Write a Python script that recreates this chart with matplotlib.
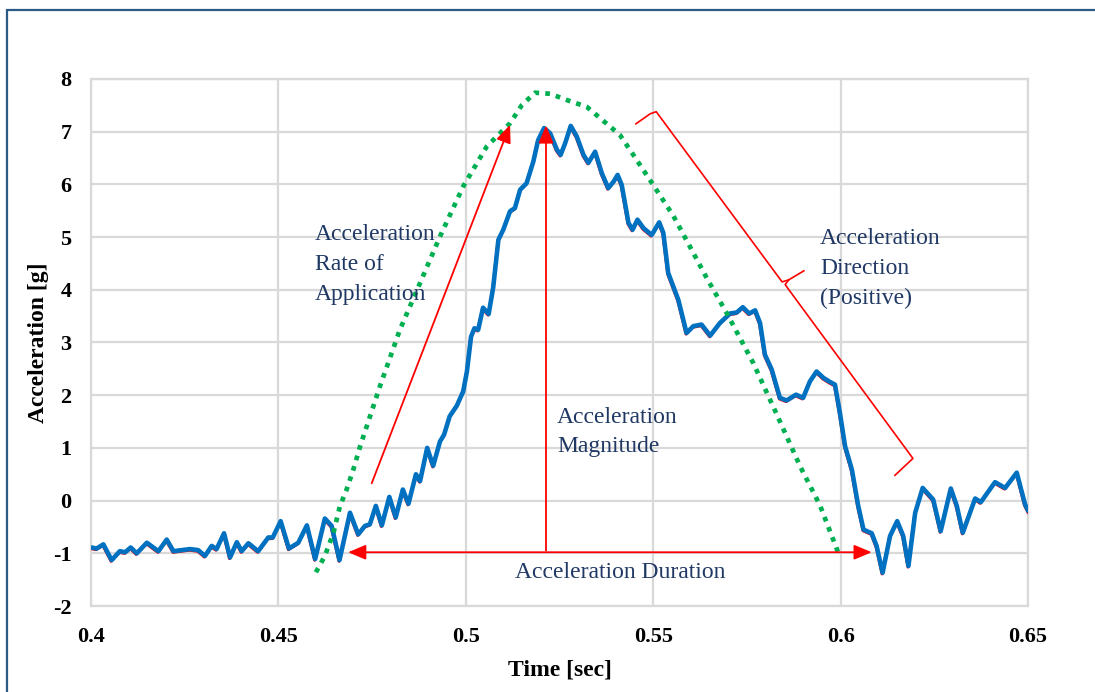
import matplotlib
matplotlib.use("Agg")
import matplotlib.pyplot as plt
from matplotlib.patches import Rectangle
import matplotlib.transforms as mtransforms

# ---------------- data ----------------
time_s = [0.4002, 0.4015, 0.4033, 0.4055, 0.4077, 0.4091, 0.4106, 0.4122, 0.4149, 0.4180,
          0.4202, 0.4220, 0.4242, 0.4264, 0.4286, 0.4304, 0.4322, 0.4335, 0.4355, 0.4371,
          0.4389, 0.4402, 0.4420, 0.4446, 0.4473, 0.4485, 0.4506, 0.4528, 0.4553, 0.4576,
          0.4598, 0.4624, 0.4642, 0.4663, 0.4691, 0.4713, 0.4731, 0.4744, 0.4760, 0.4776,
          0.4796, 0.4813, 0.4832, 0.4847, 0.4867, 0.4878, 0.4897, 0.4913, 0.4931, 0.4942,
          0.4957, 0.4976, 0.4993, 0.5003, 0.5014, 0.5023, 0.5033, 0.5046, 0.5061, 0.5073,
          0.5087, 0.5100, 0.5118, 0.5131, 0.5145, 0.5162, 0.5180, 0.5193, 0.5209, 0.5225,
          0.5243, 0.5253, 0.5265, 0.5280, 0.5296, 0.5314, 0.5327, 0.5345, 0.5363, 0.5380,
          0.5394, 0.5405, 0.5416, 0.5434, 0.5445, 0.5458, 0.5474, 0.5496, 0.5516, 0.5527,
          0.5540, 0.5567, 0.5589, 0.5607, 0.5629, 0.5652, 0.5678, 0.5705, 0.5723, 0.5739,
          0.5756, 0.5772, 0.5785, 0.5798, 0.5816, 0.5838, 0.5856, 0.5881, 0.5900, 0.5918,
          0.5936, 0.5954, 0.5972, 0.5985, 0.5998, 0.6012, 0.6030, 0.6047, 0.6061, 0.6083,
          0.6096, 0.6112, 0.6132, 0.6151, 0.6167, 0.6181, 0.6199, 0.6219, 0.6247, 0.6267,
          0.6294, 0.6310, 0.6326, 0.6359, 0.6374, 0.6412, 0.6439, 0.6470, 0.6492, 0.6501]
accel_g = [-0.89, -0.91, -0.83, -1.13, -0.96, -0.98, -0.89, -1.00, -0.80, -0.96,
           -0.74, -0.96, -0.94, -0.92, -0.94, -1.05, -0.86, -0.92, -0.62, -1.08,
           -0.79, -0.96, -0.81, -0.96, -0.70, -0.70, -0.39, -0.91, -0.80, -0.47,
           -1.11, -0.34, -0.48, -1.13, -0.23, -0.64, -0.48, -0.45, -0.10, -0.47,
           0.07, -0.32, 0.21, -0.06, 0.50, 0.37, 1.00, 0.66, 1.12, 1.25,
           1.60, 1.80, 2.07, 2.45, 3.11, 3.27, 3.24, 3.66, 3.54, 4.04,
           4.95, 5.14, 5.49, 5.55, 5.90, 6.02, 6.43, 6.84, 7.07, 6.97,
           6.66, 6.56, 6.78, 7.11, 6.91, 6.56, 6.41, 6.62, 6.21, 5.93,
           6.05, 6.18, 5.99, 5.27, 5.14, 5.33, 5.17, 5.04, 5.28, 5.08,
           4.32, 3.81, 3.18, 3.31, 3.34, 3.13, 3.37, 3.55, 3.57, 3.67,
           3.55, 3.61, 3.37, 2.77, 2.49, 1.95, 1.90, 2.01, 1.95, 2.26,
           2.45, 2.33, 2.25, 2.20, 1.67, 1.03, 0.59, -0.10, -0.55, -0.62,
           -0.86, -1.37, -0.67, -0.39, -0.67, -1.24, -0.23, 0.24, 0.02, -0.58,
           0.23, -0.10, -0.61, 0.04, -0.03, 0.35, 0.24, 0.53, -0.07, -0.20]

# idealised pulse (green dotted)
pulse_t = [0.4600, 0.4624, 0.4647, 0.4664, 0.4682, 0.4700, 0.4718, 0.4771, 0.4824, 0.4878,
           0.4931, 0.4993, 0.5056, 0.5118, 0.5150, 0.5185, 0.5225, 0.5270, 0.5323, 0.5358,
           0.5411, 0.5447, 0.5500, 0.5554, 0.5598, 0.5643, 0.5696, 0.5767, 0.5830, 0.5892,
           0.5945, 0.5990, 0.5998]
pulse_g = [-1.36, -1.05, -0.61, -0.11, 0.21, 0.59, 1.03, 2.17, 3.24, 4.13,
           5.01, 5.96, 6.72, 7.16, 7.51, 7.74, 7.72, 7.60, 7.47, 7.26,
           6.94, 6.56, 5.99, 5.40, 4.82, 4.22, 3.56, 2.61, 1.63, 0.65,
           -0.09, -0.92, -1.07]

x_ticks = [0.4, 0.45, 0.5, 0.55, 0.6, 0.65]
x_tick_labels = ['0.4', '0.45', '0.5', '0.55', '0.6', '0.65']
y_ticks = [-2, -1, 0, 1, 2, 3, 4, 5, 6, 7, 8]
y_tick_labels = ['-2', '-1', '0', '1', '2', '3', '4', '5', '6', '7', '8']

# ---------------- style ----------------
plt.rcParams['font.family'] = ['Liberation Serif', 'DejaVu Serif']
BLUE = '#0070C0'
RED = '#FF0000'
GREEN = '#00B050'
NAVY = '#1F3864'
GRID = '#D9D9D9'

fig = plt.figure(figsize=(10.95, 6.92), dpi=100)
ax = fig.add_axes([91/1095, 1-606/692, (1028-91)/1095, (606-79)/692])

ax.set_xlim(0.4, 0.65)
ax.set_ylim(-2, 8)
ax.set_xticks(x_ticks)
ax.set_xticklabels(x_tick_labels)
ax.set_yticks(y_ticks)
ax.set_yticklabels(y_tick_labels)
ax.tick_params(length=0, labelsize=16)
ax.tick_params(axis='x', pad=15)
ax.tick_params(axis='y', pad=14)
for lab in ax.get_xticklabels() + ax.get_yticklabels():
    lab.set_fontweight('bold')
ax.grid(True, color=GRID, lw=1.6)
ax.set_axisbelow(True)
for s in ax.spines.values():
    s.set_color(GRID)
    s.set_linewidth(1.6)

ax.set_xlabel('Time [sec]', fontsize=17, fontweight='bold', labelpad=9)
ax.set_ylabel('Acceleration [g]', fontsize=17, fontweight='bold', labelpad=3)

# data lines
red_tr = mtransforms.offset_copy(ax.transData, fig=fig, x=-0.4, y=-0.9, units='points')
ax.plot(time_s, accel_g, color=RED, lw=2.0, transform=red_tr, solid_joinstyle='round', zorder=3)
ax.plot(time_s, accel_g, color=BLUE, lw=3.3, solid_joinstyle='round', solid_capstyle='round', zorder=4)
ax.plot(pulse_t, pulse_g, color=GREEN, lw=3.4, linestyle=(0, (1.0, 1.3)),
        dash_capstyle='butt', zorder=5)

# annotation arrows
head = '-|>,head_length=0.9,head_width=0.38'
ap = dict(arrowstyle=head, mutation_scale=12, color=RED, lw=1.3, shrinkA=0, shrinkB=0)
ax.annotate('', xy=(0.5118, 7.13), xytext=(0.4749, 0.33), arrowprops=ap, zorder=6)
ax.annotate('', xy=(0.5214, 7.12), xytext=(0.5214, -0.95), arrowprops=ap, zorder=6)
ap2 = dict(ap)
ap2['arrowstyle'] = '<|-|>,head_length=0.9,head_width=0.38'
ax.annotate('', xy=(0.6083, -0.98), xytext=(0.4686, -0.98), arrowprops=ap2, zorder=6)

# brace for direction
ax.plot([0.5454, 0.5492, 0.5508, 0.5844, 0.5862, 0.5902],
        [7.15, 7.34, 7.38, 4.15, 4.19, 4.36], color=RED, lw=1.2, zorder=6)
ax.plot([0.5862, 0.5852, 0.5860, 0.6193, 0.6145],
        [4.19, 4.10, 4.02, 0.80, 0.48], color=RED, lw=1.2, zorder=6)

# annotation texts
tk = dict(fontsize=17, color=NAVY, linespacing=1.55, zorder=7)
ax.text(0.4598, 4.48, 'Acceleration\nRate of\nApplication', ha='left', va='center', **tk)
ax.text(0.5243, 1.30, 'Acceleration\nMagnitude', ha='left', va='center', **tk)
ax.text(0.5945, 4.40, 'Acceleration\nDirection\n(Positive)', ha='left', va='center', **tk)
ax.text(0.5411, -1.36, 'Acceleration Duration', ha='center', va='center', **tk)

# outer frame
fig.add_artist(Rectangle((7/1095, -0.1), 1.2, (1 - 10/692) + 0.1, transform=fig.transFigure,
                         fill=False, edgecolor='#2B5A87', lw=1.6))

fig.savefig('out.png', dpi=100)
